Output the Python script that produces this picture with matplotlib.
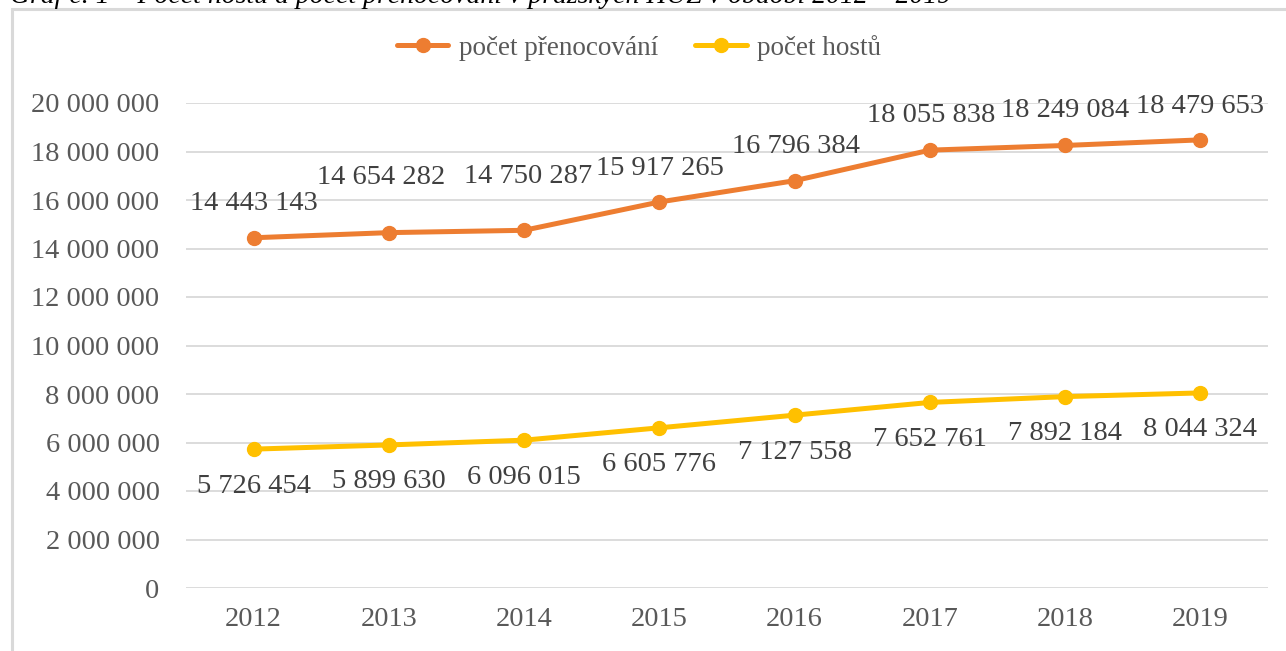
import matplotlib
matplotlib.use("Agg")
import matplotlib.pyplot as plt
from matplotlib.patches import Rectangle

years = ["2012", "2013", "2014", "2015", "2016", "2017", "2018", "2019"]
prenocovani = [14443143, 14654282, 14750287, 15917265, 16796384, 18055838, 18249084, 18479653]
hoste = [5726454, 5899630, 6096015, 6605776, 7127558, 7652761, 7892184, 8044324]
yticks = list(range(0, 20000001, 2000000))

# label offsets in pixels (Excel-style, a couple were dragged by hand)
off_pren = [(0, 34), (-8, 55), (4, 54), (1, 34), (1, 34), (1, 35), (0, 35), (0, 33)]
off_host = [(0, -37)] * 8


def fmt(v):
    return f"{v:,}".replace(",", " ")


plt.rcParams["font.family"] = ["Liberation Serif", "DejaVu Serif"]
ORANGE = "#ED7D31"
YELLOW = "#FFC000"
GREY = "#595959"
DARK = "#404040"

fig = plt.figure(figsize=(12.86, 6.51), dpi=100)
fig.patches.append(Rectangle((12 / 1286, -0.01), 1.0, 1 - 9 / 651 + 0.01, transform=fig.transFigure,
                             fill=False, edgecolor="#D9D9D9", linewidth=2.2))
fig.text(10 / 1286, 1 - 3 / 651, "Graf č. 1 – Počet hostů a počet přenocování v pražských HUZ v období 2012 – 2019",
         fontsize=20, style="italic", va="baseline", ha="left", color="black")

ax = fig.add_axes([186 / 1286, 1 - 588 / 651, (1268 - 186) / 1286, (588 - 103) / 651])
x = list(range(len(years)))
ax.plot(x, prenocovani, "-o", color=ORANGE, lw=3.6, ms=10, label="počet přenocování", solid_capstyle="round")
ax.plot(x, hoste, "-o", color=YELLOW, lw=3.6, ms=10, label="počet hostů", solid_capstyle="round")

for i, v in enumerate(prenocovani):
    ax.annotate(fmt(v), (i, v), xytext=off_pren[i], textcoords="offset pixels",
                ha="center", va="center", fontsize=20.5, color=DARK)
for i, v in enumerate(hoste):
    ax.annotate(fmt(v), (i, v), xytext=off_host[i], textcoords="offset pixels",
                ha="center", va="center", fontsize=20.5, color=DARK)

ax.set_xlim(-0.5, len(years) - 0.5)
ax.set_ylim(0, 20000000)
ax.set_xticks(x)
ax.set_xticklabels(years)
ax.set_yticks(yticks)
ax.set_yticklabels([fmt(t) for t in yticks])
ax.tick_params(length=0, labelsize=20.5, labelcolor=GREY)
ax.tick_params(axis="y", pad=19)
ax.tick_params(axis="x", pad=14)
ax.grid(axis="y", color="#D9D9D9", lw=1.3)
ax.set_axisbelow(True)
for s in ax.spines.values():
    s.set_visible(False)

leg = fig.legend(loc="center", bbox_to_anchor=(0.497, 1 - 48 / 651), ncol=2, frameon=False,
                 fontsize=19.5, handlelength=1.9, columnspacing=1.35, handletextpad=0.4)
for t in leg.get_texts():
    t.set_color(GREY)

fig.savefig("out.png", dpi=100)
